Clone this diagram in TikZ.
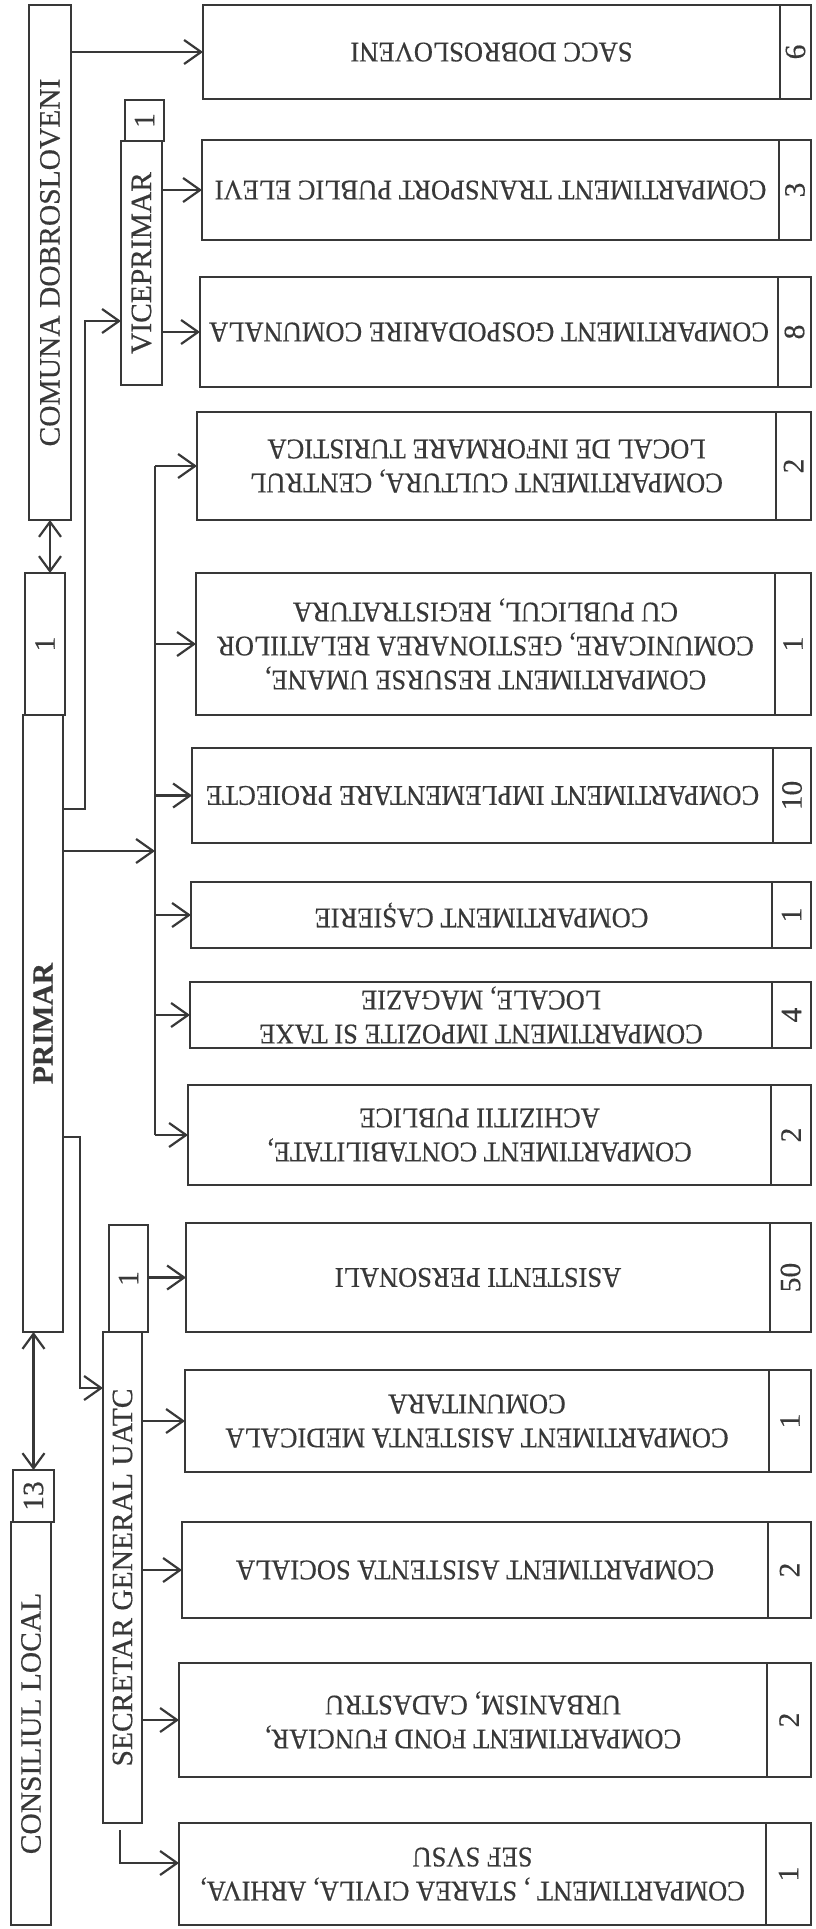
\documentclass[tikz,border=0pt]{standalone}
\usepackage{fontspec}
\setmainfont{Liberation Serif}
\newfontfamily\hfont{Liberation Serif}[FakeStretch=0.93,FakeBold=0.4]
\newfontfamily\vfont{Liberation Serif}[FakeBold=0.4]
\usepackage{tikz}
\usetikzlibrary{calc,arrows.meta,positioning}
\definecolor{ink}{HTML}{383838}
\tikzset{
  dbox/.style={draw=ink,line width=2.6pt,inner sep=0pt,outer sep=0pt,anchor=north west},
  dtext/.style={text=ink,font=\hfont\fontsize{28.5}{34}\selectfont,align=center,inner sep=0pt},
  vtext/.style={text=ink,font=\vfont\fontsize{29.5}{34}\selectfont,inner sep=0pt,rotate=90},
  arr/.style={-{Straight Barb[length=17pt,width=24pt]},line width=2.2pt,ink},
  dar/.style={{Straight Barb[length=15pt,width=22pt]}-{Straight Barb[length=15pt,width=22pt]},line width=2.2pt,ink},
  ln/.style={line width=2.2pt,ink}
}

\begin{document}
\begin{tikzpicture}[x=1pt,y=-1pt]
\useasboundingbox (0,0) rectangle (815,1929);
% left column
\node[dbox,minimum width=42pt,minimum height=515pt] (comuna) at (29,5) {};
\node[vtext] (comuna-t) at (comuna) {COMUNA DOBROSLOVENI};
\node[dbox,minimum width=40pt,minimum height=142pt] (primar-n) at (25,573) {};
\node[vtext] (primar-nt) at (primar-n) {1};
\node[dbox,minimum width=40pt,minimum height=617pt] (primar) at (23,715) {};
\node[vtext,font=\vfont\fontsize{29.5}{34}\selectfont\bfseries] (primar-t) at (primar) {PRIMAR};
\node[dbox,minimum width=39pt,minimum height=41pt] (vice-n) at (125,100) {};
\node[vtext] (vice-nt) at (vice-n) {1};
\node[dbox,minimum width=41pt,minimum height=244pt] (vice) at (121,141) {};
\node[vtext] (vice-t) at (vice) {VICEPRIMAR};
\node[dbox,minimum width=39pt,minimum height=107pt] (secr-n) at (109,1225) {};
\node[vtext] (secr-nt) at (secr-n) {1};
\node[dbox,minimum width=39pt,minimum height=491pt] (secr) at (103,1332) {};
\node[vtext] (secr-t) at (secr) {SECRETAR GENERAL UATC};
\node[dbox,minimum width=41pt,minimum height=52pt] (cons-n) at (13,1470) {};
\node[vtext] (cons-nt) at (cons-n) {13};
\node[dbox,minimum width=40pt,minimum height=403pt] (cons) at (11,1522) {};
\node[vtext] (cons-t) at (cons) {CONSILIUL LOCAL};

% departments
\foreach \nm/\ya/\yb/\xa/\xs/\nn/\txt in {
  sacc/5/99/203/780/6/SACC DOBROSLOVENI,
  trans/140/240/202/779/3/COMPARTIMENT TRANSPORT PUBLIC ELEVI,
  gosp/277/387/200/778/8/COMPARTIMENT GOSPODARIRE COMUNALA,
  cult/412/520/197/776/2/{COMPARTIMENT CULTURA, CENTRUL\\LOCAL DE INFORMARE TURISTICA},
  ru/573/715/196/775/1/{COMPARTIMENT RESURSE UMANE,\\COMUNICARE, GESTIONAREA RELATIILOR\\CU PUBLICUL, REGISTRATURA},
  proi/748/843/192/773/10/COMPARTIMENT IMPLEMENTARE PROIECTE,
  cas/882/948/191/772/1/COMPARTIMENT CAȘIERIE,
  imp/982/1048/190/772/4/{COMPARTIMENT IMPOZITE SI TAXE\\LOCALE, MAGAZIE},
  cont/1085/1185/188/771/2/{COMPARTIMENT CONTABILITATE,\\ACHIZITII PUBLICE},
  ap/1223/1332/186/770/50/ASISTENTI PERSONALI,
  med/1370/1472/185/769/1/{COMPARTIMENT ASISTENTA MEDICALA\\COMUNITARA},
  soc/1522/1618/182/768/2/COMPARTIMENT ASISTENTA SOCIALA,
  fond/1663/1777/179/767/2/{COMPARTIMENT FOND FUNCIAR,\\URBANISM, CADASTRU},
  sc/1823/1925/179/766/1/{COMPARTIMENT , STAREA CIVILA, ARHIVA,\\SEF SVSU}}{
  \pgfmathsetmacro\bw{\xs-\xa}
  \pgfmathsetmacro\bh{\yb-\ya}
  \pgfmathsetmacro\nw{811-\xs}
  \node[dbox,minimum width=\bw pt,minimum height=\bh pt] (\nm) at (\xa,\ya) {};
  \node[dbox,minimum width=\nw pt,minimum height=\bh pt] (\nm-n) at (\xs,\ya) {};
  \node[dtext,rotate=180] (\nm-t) at (\nm) {\txt};
  \node[vtext] (\nm-nt) at (\nm-n) {\nn};
}

% connectors
\draw[dar] (comuna.south) -- (comuna.south |- primar-n.north);
\draw[dar] (cons-n.north) -- (cons-n.north |- primar.south);
\draw[arr] (comuna.east |- sacc.west) -- (sacc.west);
\draw[arr] (vice.east |- trans.west) -- (trans.west);
\draw[arr] (vice.east |- gosp.west) -- (gosp.west);
\coordinate (vj) at (85,321);
\coordinate (vk) at (85,809);
\draw[arr] (primar.east |- vk) -- (vk) -- (vj) -- (vice.west |- vj);
\coordinate (br) at (155,851);
\draw[arr] (primar.east |- br) -- (br);
\draw[ln] (br |- cult.west) -- (br |- cont.west);
\foreach \nm in {cult,ru,proi,cas,imp,cont}
  \draw[arr] (br |- \nm.west) -- (\nm.west);
\coordinate (sk) at (80,1137);
\coordinate (sj) at (80,1388);
\draw[arr] (primar.east |- sk) -- (sk) -- (sj) -- (secr.west |- sj);
\draw[arr] (secr-n.east |- ap.west) -- (ap.west);
\foreach \nm in {med,soc,fond}
  \draw[arr] (secr.east |- \nm.west) -- (\nm.west);
\coordinate (sl0) at (120,1830);
\coordinate (sl) at (120,1863);
\draw[arr] (sl0) -- (sl) -- (sc.west |- sl);
\end{tikzpicture}
\end{document}
